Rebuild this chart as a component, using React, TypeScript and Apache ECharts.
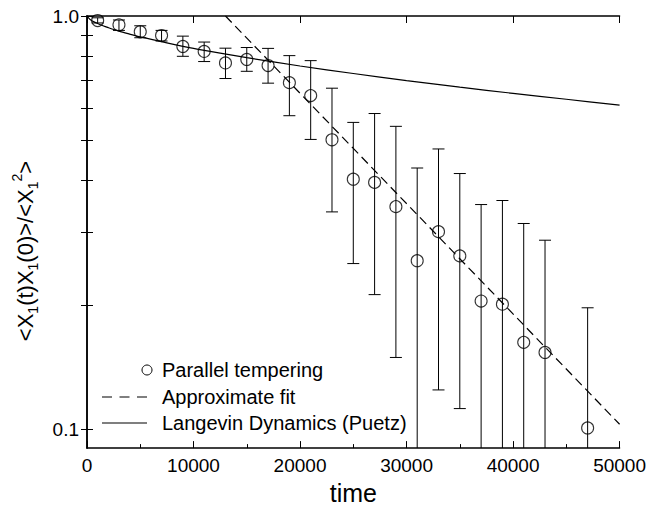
import React, { useEffect, useRef } from 'react';
import * as echarts from 'echarts';

const FONT = '"Liberation Sans", Arial, Helvetica, sans-serif';

// Parallel tempering data points
const ptTime = [1000, 3000, 5000, 7000, 9000, 11000, 13000, 15000, 17000, 19000, 21000, 23000, 25000, 27000, 29000, 31000, 33000, 35000, 37000, 39000, 41000, 43000, 47000];
const ptValue = [0.975, 0.952, 0.916, 0.897, 0.844, 0.821, 0.77, 0.785, 0.759, 0.69, 0.642, 0.502, 0.403, 0.396, 0.346, 0.256, 0.301, 0.263, 0.2045, 0.201, 0.1625, 0.1536, 0.1009];
const ptUpper = [0.99, 0.978, 0.947, 0.923, 0.894, 0.865, 0.836, 0.839, 0.835, 0.802, 0.78, 0.669, 0.553, 0.581, 0.541, 0.429, 0.477, 0.416, 0.35, 0.358, 0.315, 0.287, 0.197];
const ptLower = [0.962, 0.923, 0.886, 0.87, 0.799, 0.776, 0.706, 0.735, 0.688, 0.574, 0.503, 0.336, 0.252, 0.212, 0.1494, 0.05, 0.1247, 0.1124, 0.05, 0.05, 0.05, 0.05, 0.05];

// Approximate fit (dashed)
const fitTime = [13000, 50000];
const fitValue = [1.0, 0.103];

// Langevin Dynamics (Puetz) (solid)
const lgTime = [0, 250, 500, 1000, 1500, 2000, 3000, 4000, 5000, 7500, 10000, 12500, 15000, 20000, 25000, 30000, 35000, 40000, 45000, 50000];
const lgValue = [1.0, 0.983, 0.973, 0.959, 0.947, 0.937, 0.919, 0.904, 0.89, 0.861, 0.835, 0.813, 0.793, 0.757, 0.726, 0.698, 0.673, 0.65, 0.629, 0.609];

// Axis ticks
const xTicks = [0, 10000, 20000, 30000, 40000, 50000];
const yTickValues = [0.1, 0.2, 0.3, 0.4, 0.5, 0.6, 0.7, 0.8, 0.9, 1.0];
const yLabelValues = [0.1, 1.0];

const Y_MIN = 0.0902;
const Y_MAX = 1.0;

export default function App() {
  const ref = useRef<HTMLDivElement>(null);
  useEffect(() => {
    const chart = echarts.init(ref.current!, null, { renderer: 'svg' });
    const axisLine = { show: true, lineStyle: { color: '#000', width: 1.5 } };
    const option: any = {
      animation: false,
      backgroundColor: '#fff',
      grid: { left: 87, right: 26, top: 16, bottom: 52, containLabel: false },
      xAxis: [
        {
          type: 'value',
          min: xTicks[0],
          max: xTicks[xTicks.length - 1],
          interval: 10000,
          position: 'bottom',
          axisLine,
          axisTick: { show: true, inside: true, length: 7, lineStyle: { color: '#000', width: 1 } },
          minorTick: { show: true, splitNumber: 2, length: 4, lineStyle: { color: '#000', width: 1 } },
          splitLine: { show: false },
          axisLabel: { color: '#000', fontSize: 19, fontFamily: FONT, margin: 8, formatter: (v: number) => String(v) },
          name: 'time',
          nameLocation: 'middle',
          nameGap: 27,
          nameTextStyle: { color: '#000', fontSize: 25, fontFamily: FONT },
        },
        {
          type: 'value',
          min: xTicks[0],
          max: xTicks[xTicks.length - 1],
          interval: 10000,
          position: 'top',
          axisLine,
          axisTick: { show: true, inside: true, length: 7, lineStyle: { color: '#000', width: 1 } },
          splitLine: { show: false },
          axisLabel: { show: false },
        },
      ],
      yAxis: [
        {
          type: 'log',
          logBase: 10,
          min: Y_MIN,
          max: Y_MAX,
          position: 'left',
          axisLine,
          axisTick: { show: true, inside: true, length: 6, customValues: yTickValues, lineStyle: { color: '#000', width: 1 } },
          splitLine: { show: false },
          axisLabel: {
            color: '#000',
            fontSize: 19,
            fontFamily: FONT,
            margin: 8,
            customValues: yLabelValues,
            formatter: (v: number) => v.toFixed(1),
          },
        },
        {
          type: 'log',
          logBase: 10,
          min: Y_MIN,
          max: Y_MAX,
          position: 'right',
          axisLine,
          axisTick: { show: true, inside: true, length: 6, customValues: yTickValues, lineStyle: { color: '#000', width: 1 } },
          splitLine: { show: false },
          axisLabel: { show: false },
        },
      ],
      series: [
        {
          name: 'Langevin Dynamics (Puetz)',
          type: 'line',
          xAxisIndex: 0,
          yAxisIndex: 0,
          data: lgTime.map((t, i) => [t, lgValue[i]]),
          showSymbol: false,
          symbol: 'none',
          smooth: 0.3,
          clip: true,
          lineStyle: { color: '#000', width: 1.2 },
        },
        {
          name: 'Approximate fit',
          type: 'line',
          xAxisIndex: 0,
          yAxisIndex: 0,
          data: fitTime.map((t, i) => [t, fitValue[i]]),
          showSymbol: false,
          symbol: 'none',
          clip: true,
          lineStyle: { color: '#000', width: 1.2, type: [9, 5] },
        },
        {
          name: 'errors',
          type: 'custom',
          xAxisIndex: 0,
          yAxisIndex: 0,
          clip: true,
          data: ptTime.map((t, i) => [t, ptLower[i], ptUpper[i]]),
          encode: { x: 0, y: [1, 2] },
          renderItem: (params: any, api: any) => {
            const x = api.value(0);
            const lo = api.coord([x, api.value(1)]);
            const hi = api.coord([x, api.value(2)]);
            const w = 6;
            const style = { stroke: '#000', lineWidth: 1, fill: 'none' };
            return {
              type: 'group',
              children: [
                { type: 'line', shape: { x1: lo[0], y1: lo[1], x2: hi[0], y2: hi[1] }, style },
                { type: 'line', shape: { x1: hi[0] - w, y1: hi[1], x2: hi[0] + w, y2: hi[1] }, style },
                { type: 'line', shape: { x1: lo[0] - w, y1: lo[1], x2: lo[0] + w, y2: lo[1] }, style },
              ],
            };
          },
        },
        {
          name: 'Parallel tempering',
          type: 'scatter',
          xAxisIndex: 0,
          yAxisIndex: 0,
          data: ptTime.map((t, i) => [t, ptValue[i]]),
          symbol: 'circle',
          symbolSize: 12,
          itemStyle: { color: 'rgba(0,0,0,0)', borderColor: '#000', borderWidth: 1.1 },
        },
      ],
      graphic: [
        {
          type: 'text',
          x: 25,
          y: 251,
          rotation: Math.PI / 2,
          style: {
            text: '{m|<X}{s|1}{m|(t)X}{s|1}{m|(0)>/<X}{s|1}{p|2}{m|>}',
            align: 'center',
            verticalAlign: 'middle',
            textAlign: 'center',
            textVerticalAlign: 'middle',
            rich: {
              m: { fontSize: 22, fontFamily: FONT, fill: '#000', color: '#000', lineHeight: 30, verticalAlign: 'middle' },
              s: { fontSize: 14, fontFamily: FONT, fill: '#000', color: '#000', lineHeight: 14, verticalAlign: 'bottom' },
              p: { fontSize: 14, fontFamily: FONT, fill: '#000', color: '#000', lineHeight: 14, verticalAlign: 'top' },
            },
          },
        },
        {
          type: 'circle',
          shape: { cx: 147, cy: 370, r: 5 },
          style: { fill: 'none', stroke: '#000', lineWidth: 1 },
        },
        {
          type: 'line',
          shape: { x1: 102, y1: 397, x2: 147, y2: 397 },
          style: { stroke: '#000', lineWidth: 1.2, lineDash: [10, 7.5] },
        },
        {
          type: 'line',
          shape: { x1: 102, y1: 423, x2: 147, y2: 423 },
          style: { stroke: '#000', lineWidth: 1.2 },
        },
        ...[
          ['Parallel tempering', 370],
          ['Approximate fit', 397],
          ['Langevin Dynamics (Puetz)', 423],
        ].map(([t, y]) => ({
          type: 'text',
          x: 162,
          y: y as number,
          style: {
            text: t as string,
            font: `20px ${FONT}`,
            fill: '#000',
            align: 'left',
            verticalAlign: 'middle',
            textAlign: 'left',
            textVerticalAlign: 'middle',
          },
        })),
      ],
    };
    chart.setOption(option);
    return () => chart.dispose();
  }, []);
  return <div ref={ref} style={{ position: 'absolute', left: 0, top: 0, width: 649, height: 510 }} />;
}
